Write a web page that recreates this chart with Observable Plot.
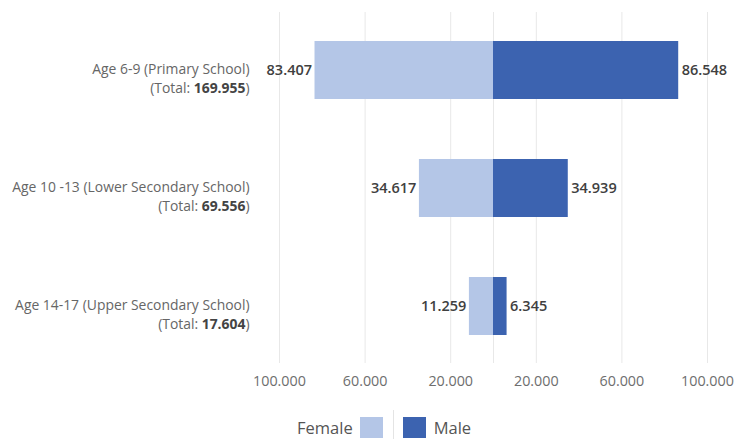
<!DOCTYPE html>
<html>
<head>
<meta charset="utf-8">
<script src="https://cdn.jsdelivr.net/npm/d3@7"></script>
<script src="https://cdn.jsdelivr.net/npm/@observablehq/plot@0.6"></script>
<style>
  html, body { margin: 0; padding: 0; background: #fff; }
  body { width: 734px; height: 439px; overflow: hidden; font-family: "Open Sans", sans-serif; }
  #legend { display: flex; align-items: center; height: 22px; margin-top: 16px; padding-left: 297px; color: #555; font-size: 16.5px; }
  #legend .sw { width: 23px; height: 21px; }
  #legend .sep { width: 1px; height: 29px; background: #e4e4e4; margin: 0 9px 0 10px; position: relative; top: -3px; }
</style>
</head>
<body>
<div id="chart"></div>
<div id="legend"></div>
<script>
const categories = [
  "Age 6-9 (Primary School)",
  "Age 10 -13 (Lower Secondary School)",
  "Age 14-17 (Upper Secondary School)"
];
const female = [83407, 34617, 11259];
const male = [86548, 34939, 6345];
const gridTicks = [-100000, -60000, -20000, 0, 20000, 60000, 100000];
const labelTicks = [-100000, -60000, -20000, 20000, 60000, 100000];
const seriesNames = ["Female", "Male"];
const seriesColors = ["#b4c6e7", "#3c63b0"];

const locale = d3.formatLocale({decimal: ",", thousands: ".", grouping: [3], currency: ["", ""]});
const fmt = locale.format(",d");

const rows = categories.map((c, i) => ({cat: c, female: female[i], male: male[i], total: female[i] + male[i]}));

const plot = Plot.plot({
  width: 734,
  height: 400,
  marginLeft: 279,
  marginRight: 27,
  marginTop: 12,
  marginBottom: 37,
  style: {fontFamily: "'Open Sans', sans-serif", background: "#fff", overflow: "visible"},
  x: {domain: [-100000, 100000], axis: null},
  y: {domain: categories, axis: null, paddingInner: 0.51, paddingOuter: 0.236},
  marks: [
    Plot.ruleX(gridTicks, {stroke: "#e8e8e8", strokeWidth: 1}),
    Plot.axisX({ticks: labelTicks, tickFormat: d => fmt(Math.abs(d)), tickSize: 0, tickPadding: 12, fontSize: 14.3, color: "#6e6e6e"}),
    Plot.barX(rows, {y: "cat", x1: () => 0, x2: d => -d.female, fill: seriesColors[0]}),
    Plot.barX(rows, {y: "cat", x1: () => 0, x2: d => d.male, fill: seriesColors[1]}),
    Plot.text(rows, {y: "cat", x: d => -d.female, text: d => fmt(d.female), textAnchor: "end", dx: -3, fontSize: 14.5, fontWeight: 600, fill: "#404040"}),
    Plot.text(rows, {y: "cat", x: d => d.male, text: d => fmt(d.male), textAnchor: "start", dx: 3, fontSize: 14.5, fontWeight: 600, fill: "#404040"}),
    Plot.text(rows, {y: "cat", text: "cat", frameAnchor: "left", textAnchor: "end", dx: -30, dy: -1, fontSize: 13.9, fill: "#666"}),
    Plot.text(rows, {y: "cat", text: d => `(Total: ${fmt(d.total)})`, frameAnchor: "left", textAnchor: "end", dx: -30, dy: 18, fontSize: 13.9, fill: "#666"})
  ]
});

// bold the totals inside the second line of each category label
plot.querySelectorAll("text").forEach(t => {
  const m = /^\(Total: (.+)\)$/.exec(t.textContent);
  if (!m) return;
  t.textContent = "";
  const ns = "http://www.w3.org/2000/svg";
  t.appendChild(document.createTextNode("(Total: "));
  const b = document.createElementNS(ns, "tspan");
  b.setAttribute("font-weight", "700");
  b.setAttribute("fill", "#444");
  b.textContent = m[1];
  t.appendChild(b);
  t.appendChild(document.createTextNode(")"));
});

document.getElementById("chart").appendChild(plot);

const legend = document.getElementById("legend");
legend.innerHTML =
  `<span>${seriesNames[0]}</span>` +
  `<span class="sw" style="background:${seriesColors[0]};margin-left:7px"></span>` +
  `<span class="sep"></span>` +
  `<span class="sw" style="background:${seriesColors[1]};margin-right:8px"></span>` +
  `<span>${seriesNames[1]}</span>`;
</script>
</body>
</html>
